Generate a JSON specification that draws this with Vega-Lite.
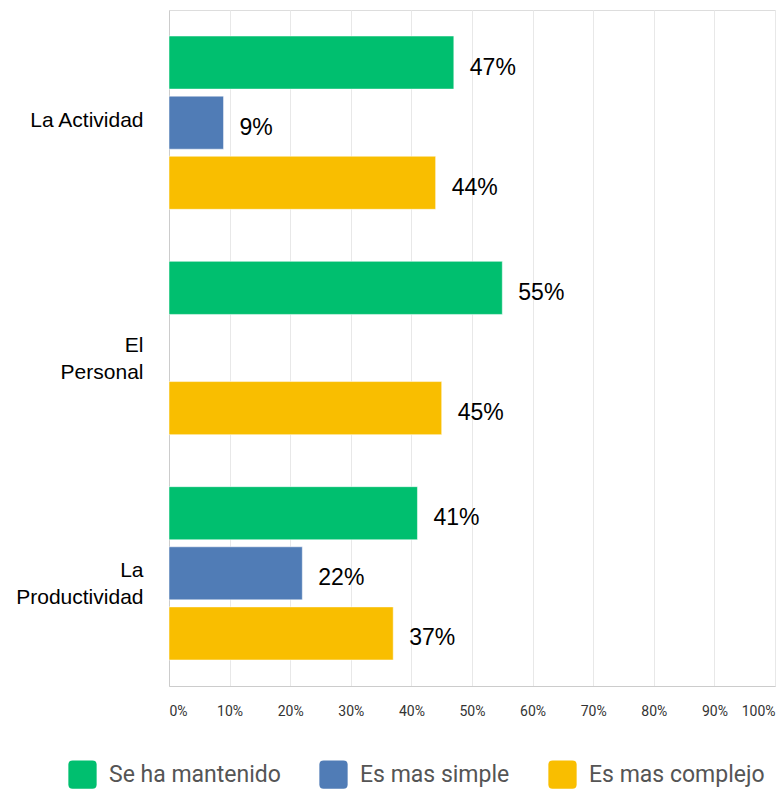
{
  "$schema": "https://vega.github.io/schema/vega-lite/v6.json",
  "width": 606,
  "height": 676,
  "autosize": "none",
  "padding": {"left": 169, "top": 10, "right": 1, "bottom": 105},
  "background": "white",
  "data": {
    "values": [
      {"cat": "La Actividad", "serie": "Se ha mantenido", "v": 0.47},
      {"cat": "La Actividad", "serie": "Es mas simple", "v": 0.09},
      {"cat": "La Actividad", "serie": "Es mas complejo", "v": 0.44},
      {"cat": "El Personal", "serie": "Se ha mantenido", "v": 0.55},
      {"cat": "El Personal", "serie": "Es mas complejo", "v": 0.45},
      {"cat": "La Productividad", "serie": "Se ha mantenido", "v": 0.41},
      {"cat": "La Productividad", "serie": "Es mas simple", "v": 0.22},
      {"cat": "La Productividad", "serie": "Es mas complejo", "v": 0.37}
    ]
  },
  "encoding": {
    "y": {
      "field": "cat",
      "type": "nominal",
      "sort": ["La Actividad", "El Personal", "La Productividad"],
      "scale": {"paddingInner": 0.2, "paddingOuter": 0.1},
      "axis": {
        "title": null,
        "ticks": false,
        "domain": true,
        "domainColor": "#cccccc",
        "labelFont": "Liberation Sans",
        "labelFontSize": 21,
        "labelColor": "#000000",
        "labelPadding": 26,
        "labelBaseline": "alphabetic",
        "labelOffset": 4,
        "labelLineHeight": 27,
        "labelLimit": 300,
        "labelExpr": "datum.value == 'El Personal' ? ['El', 'Personal'] : datum.value == 'La Productividad' ? ['La', 'Productividad'] : datum.value"
      }
    },
    "yOffset": {
      "field": "serie",
      "type": "nominal",
      "sort": ["Se ha mantenido", "Es mas simple", "Es mas complejo"],
      "scale": {"domain": ["Se ha mantenido", "Es mas simple", "Es mas complejo"], "paddingInner": 0.117, "paddingOuter": 0.058}
    },
    "x": {
      "field": "v",
      "type": "quantitative",
      "scale": {"domain": [0, 1], "nice": false},
      "axis": {
        "title": null,
        "values": [0, 0.1, 0.2, 0.3, 0.4, 0.5, 0.6, 0.7, 0.8, 0.9, 1],
        "format": ".0%",
        "ticks": false,
        "grid": true,
        "gridColor": "#e8e8e8",
        "domainColor": "#cccccc",
        "labelFont": "Roboto",
        "labelFontSize": 14,
        "labelColor": "#333333",
        "labelPadding": 18,
        "labelFlush": true,
        "labelOverlap": false
      }
    }
  },
  "layer": [
    {
      "mark": {"type": "bar", "stroke": "white", "strokeOpacity": 0.5, "strokeWidth": 1},
      "encoding": {
        "color": {
          "field": "serie",
          "type": "nominal",
          "scale": {
            "domain": ["Se ha mantenido", "Es mas simple", "Es mas complejo"],
            "range": ["#00BF6F", "#507CB6", "#F9BE00"]
          },
          "legend": {
            "title": null,
            "orient": "none",
            "direction": "horizontal",
            "legendX": -101,
            "legendY": 750,
            "symbolType": "M-1,-0.7Q-1,-1,-0.7,-1L0.7,-1Q1,-1,1,-0.7L1,0.7Q1,1,0.7,1L-0.7,1Q-1,1,-1,0.7Z",
            "symbolSize": 800,
            "symbolStrokeWidth": 0,
            "symbolOpacity": 1,
            "labelFont": "Roboto",
            "labelFontSize": 23,
            "labelColor": "#555555",
            "labelOffset": 12,
            "labelLimit": 400,
            "columnPadding": 38
          }
        }
      }
    },
    {
      "mark": {"type": "text", "align": "left", "baseline": "middle", "dx": 16, "dy": 5, "font": "Liberation Sans", "fontSize": 23, "color": "#000000"},
      "encoding": {
        "text": {"field": "v", "type": "quantitative", "format": ".0%"}
      }
    }
  ]
}
